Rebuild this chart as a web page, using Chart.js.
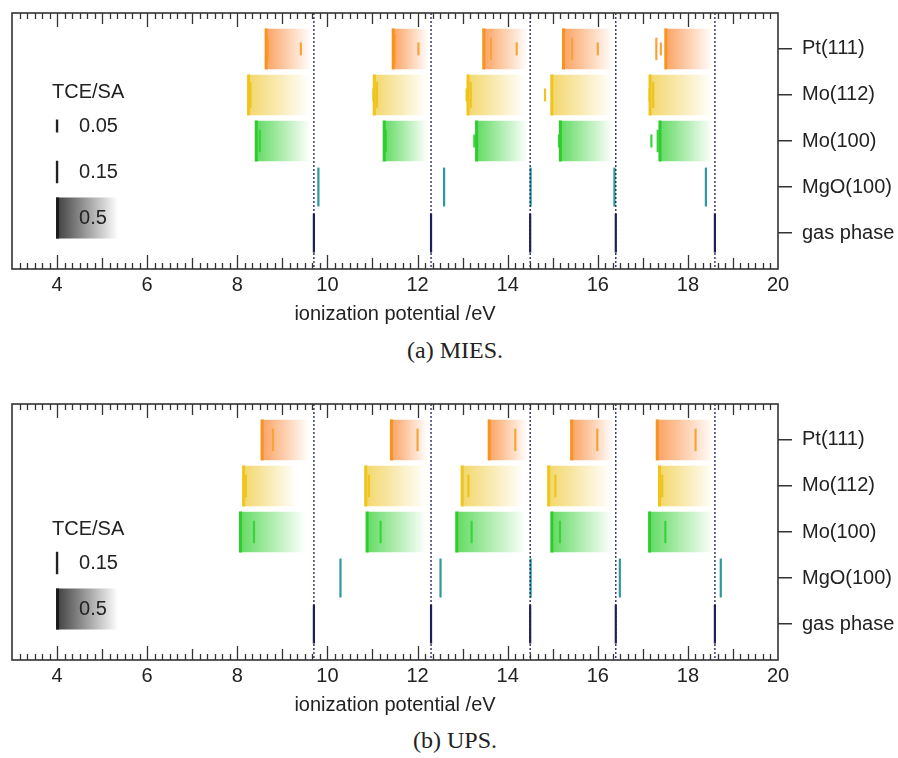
<!DOCTYPE html>
<html>
<head>
<meta charset="utf-8">
<script src="https://cdn.jsdelivr.net/npm/chart.js@4.4.0/dist/chart.umd.min.js"></script>
<style>
    body { margin: 0; background: #fff; width: 898px; height: 758px; position: relative; overflow: hidden; }
    .panel { position: absolute; left: 0; width: 898px; height: 330px; }
    .caption { position: absolute; left: 0; width: 910px; text-align: center; font-family: "Liberation Serif", serif; font-size: 24px; color: #222; }
</style>
</head>
<body>
<div class="panel" style="top:0"><canvas id="mies"></canvas></div>
<div class="caption" style="top:337px">(a) MIES.</div>
<div class="panel" style="top:391px"><canvas id="ups"></canvas></div>
<div class="caption" style="top:727px">(b) UPS.</div>
<script>
// rows top -> bottom
const rows = ['Pt(111)', 'Mo(112)', 'Mo(100)', 'MgO(100)', 'gas phase'];
const xTickValues = [4, 6, 8, 10, 12, 14, 16, 18, 20];
const gasPhase = [9.7, 12.3, 14.5, 16.4, 18.6];

// (a) MIES : band onsets / ends, extra peaks (position, TCE/SA weight)
const miesPtOnset = [8.64, 11.46, 13.47, 15.24, 17.51];
const miesPtEnd = [9.64, 12.24, 14.44, 16.35, 18.55];
const miesPtPeakX = [8.68, 9.41, 11.50, 12.02, 13.63, 14.20, 15.43, 16.00, 17.30, 17.40];
const miesPtPeakW = [0.15, 0.05, 0.25, 0.05, 0.15, 0.05, 0.15, 0.05, 0.15, 0.05];
const miesMo112Onset = [8.25, 11.04, 13.12, 14.98, 17.16];
const miesMo112End = [9.6, 12.2, 14.38, 16.32, 18.55];
const miesMo112PeakX = [8.29, 11.02, 11.10, 13.09, 13.18, 14.83, 17.15, 17.23];
const miesMo112PeakW = [0.2, 0.05, 0.2, 0.05, 0.2, 0.05, 0.05, 0.2];
const miesMo100Onset = [8.42, 11.26, 13.31, 15.17, 17.38];
const miesMo100End = [9.62, 12.22, 14.44, 16.34, 18.55];
const miesMo100PeakX = [8.50, 11.30, 13.26, 15.14, 17.33, 17.19];
const miesMo100PeakW = [0.15, 0.15, 0.05, 0.05, 0.15, 0.05];
const miesMgO = [9.80, 12.59, 14.51, 16.37, 18.40];
const miesKey = [0.05, 0.15, 0.5];

// (b) UPS
const upsPtOnset = [8.55, 11.42, 13.59, 15.42, 17.32];
const upsPtEnd = [9.6, 12.22, 14.44, 16.35, 18.58];
const upsPtPeakX = [8.79, 12.00, 14.17, 15.99, 18.17];
const upsPtPeakW = [0.15, 0.15, 0.15, 0.15, 0.15];
const upsMo112Onset = [8.14, 10.85, 12.99, 14.91, 17.37];
const upsMo112End = [9.32, 12.2, 14.36, 16.3, 18.58];
const upsMo112PeakX = [8.19, 10.92, 13.13, 15.06, 17.43];
const upsMo112PeakW = [0.15, 0.15, 0.15, 0.15, 0.15];
const upsMo100Onset = [8.07, 10.88, 12.87, 14.98, 17.15];
const upsMo100End = [9.52, 12.2, 14.41, 16.32, 18.58];
const upsMo100PeakX = [8.37, 11.18, 13.20, 15.16, 17.50];
const upsMo100PeakW = [0.15, 0.15, 0.15, 0.15, 0.15];
const upsMgO = [10.29, 12.51, 14.51, 16.49, 18.73];
const upsKey = [0.15, 0.5];

const FONT = '"Liberation Sans", Arial, sans-serif';
const INK = '#222';
const NAVY = '#1e1e5a';
const TEAL = '#2a9a9e';
const Y_MIN = -0.78, Y_MAX = 4.78;

const species = [
    { row: 0, edge: '#f7931e', fill: 'rgba(250,140,60,', mark: '#f9a23c' },
    { row: 1, edge: '#f0c419', fill: 'rgba(240,205,70,', mark: '#eec424' },
    { row: 2, edge: '#2ecc2e', fill: 'rgba(60,210,60,', mark: '#3ad43a' }
];

// line length grows with sqrt of TCE/SA, in row units
function halfLen(chart, w) {
    const ys = chart.scales.y;
    const unit = Math.abs(ys.getPixelForValue(1) - ys.getPixelForValue(0));
    return 0.63 * Math.sqrt(w) * unit;
}

function markDataset(points, color, width, order) {
    return {
        type: 'scatter',
        data: points,
        pointStyle: 'line',
        rotation: 90,
        radius: ctx => (ctx.raw && ctx.chart.scales.y) ? halfLen(ctx.chart, ctx.raw.w) : 0,
        hoverRadius: ctx => (ctx.raw && ctx.chart.scales.y) ? halfLen(ctx.chart, ctx.raw.w) : 0,
        borderColor: color,
        backgroundColor: color,
        borderWidth: ctx => (ctx.raw && ctx.raw.w >= 0.5) ? width : 2.2,
        showLine: false,
        order: order
    };
}

function buildDatasets(bands, mgo) {
    const datasets = [];
    // dotted gas-phase guides
    const guide = [];
    gasPhase.forEach(v => { guide.push({ x: v, y: Y_MIN }, { x: v, y: Y_MAX }, { x: v, y: null }); });
    datasets.push({
        type: 'line', data: guide, borderColor: NAVY, borderWidth: 1.3, borderDash: [2, 2],
        pointRadius: 0, spanGaps: false, order: 1
    });

    bands.forEach((b, i) => {
        const sp = species[i];
        // gradient bands
        datasets.push({
            type: 'bar',
            indexAxis: 'y',
            data: b.onset.map((s, k) => ({ x: [s, b.end[k]], y: sp.row })),
            backgroundColor: ctx => {
                const chart = ctx.chart;
                if (!chart.chartArea || !ctx.raw) return sp.fill + '0.4)';
                const xs = chart.scales.x;
                const x0 = xs.getPixelForValue(ctx.raw.x[0]);
                const x1 = xs.getPixelForValue(ctx.raw.x[1]);
                const g = chart.ctx.createLinearGradient(x0, 0, x1, 0);
                g.addColorStop(0, sp.fill + '0.8)');
                g.addColorStop(1, sp.fill + '0)');
                return g;
            },
            borderWidth: 0,
            grouped: false,
            categoryPercentage: 1,
            barPercentage: 0.88,
            order: 4
        });
        // onset edge (0.5) + extra peaks
        const pts = b.onset.map(s => ({ x: s, y: sp.row, w: 0.5 }));
        b.peakX.forEach((x, k) => pts.push({ x: x, y: sp.row, w: b.peakW[k] }));
        datasets.push(markDataset(pts.filter(p => p.w < 0.5), sp.mark, 2.2, 3));
        datasets.push(markDataset(pts.filter(p => p.w >= 0.5), sp.edge, 3, 2));
    });

    datasets.push(markDataset(mgo.map(x => ({ x: x, y: 3, w: 0.45 })), TEAL, 2.2, 2));
    datasets.push(markDataset(gasPhase.map(x => ({ x: x, y: 4, w: 0.45 })), NAVY, 2.6, 2));
    return datasets;
}

// frame with inward ticks, plus TCE/SA key
const framePlugin = {
    id: 'frame',
    afterDatasetsDraw(chart, args, opts) {
        const { ctx, chartArea: a } = chart;
        const xs = chart.scales.x;
        ctx.save();
        ctx.strokeStyle = '#333';
        ctx.lineWidth = 1.6;
        ctx.strokeRect(a.left, a.top, a.right - a.left, a.bottom - a.top);
        ctx.lineWidth = 1.3;
        for (let k = 3 * 6 + 1; k < 20 * 6; k++) {
            const v = k / 6;
            const px = Math.round(xs.getPixelForValue(v)) + 0.5;
            let len = 6;
            if (k % 6 === 0) len = (k / 6) % 2 === 0 ? 14 : 11;
            ctx.beginPath();
            ctx.moveTo(px, a.top); ctx.lineTo(px, a.top + len);
            ctx.moveTo(px, a.bottom); ctx.lineTo(px, a.bottom - len);
            ctx.stroke();
        }

        // key
        const keys = opts.keys || [];
        const markX = xs.getPixelForValue(4);
        const textX = markX + 22;
        const step = 46;
        const lastY = a.top + 205;
        ctx.font = '20px ' + FONT;
        ctx.textBaseline = 'middle';
        ctx.fillStyle = INK;
        const firstY = lastY - step * (keys.length - 1);
        ctx.fillText('TCE/SA', markX - 5, firstY - 34);
        keys.forEach((w, i) => {
            const y = firstY + step * i;
            const h = halfLen(chart, w);
            if (w >= 0.5) {
                const x0 = markX - 1, x1 = markX + 61;
                const g = ctx.createLinearGradient(x0, 0, x1, 0);
                g.addColorStop(0, 'rgba(40,40,40,0.9)');
                g.addColorStop(1, 'rgba(40,40,40,0)');
                ctx.fillStyle = g;
                ctx.fillRect(x0, y - h, x1 - x0, 2 * h);
                ctx.strokeStyle = '#1a1a1a';
                ctx.lineWidth = 3;
                ctx.beginPath(); ctx.moveTo(x0 + 1.5, y - h); ctx.lineTo(x0 + 1.5, y + h); ctx.stroke();
            } else {
                ctx.strokeStyle = INK;
                ctx.lineWidth = 2.4;
                ctx.beginPath(); ctx.moveTo(markX, y - h); ctx.lineTo(markX, y + h); ctx.stroke();
            }
            ctx.fillStyle = INK;
            ctx.fillText(String(w), textX, y);
        });
        ctx.restore();
    }
};

function makeChart(id, bands, mgo, keys) {
    new Chart(document.getElementById(id), {
        data: { datasets: buildDatasets(bands, mgo) },
        plugins: [framePlugin],
        options: {
            responsive: true,
            maintainAspectRatio: false,
            animation: false,
            events: [],
            layout: { autoPadding: false, padding: { left: 12, top: 13, right: 0, bottom: 4 } },
            plugins: {
                legend: { display: false },
                tooltip: { enabled: false },
                frame: { keys: keys }
            },
            scales: {
                x: {
                    type: 'linear',
                    position: 'bottom',
                    offset: false,
                    min: 3,
                    max: 20,
                    afterBuildTicks: s => { s.ticks = xTickValues.map(v => ({ value: v })); },
                    grid: { display: false, drawTicks: false, offset: false },
                    border: { display: false },
                    ticks: { font: { family: FONT, size: 20 }, color: INK, padding: 4, maxRotation: 0 },
                    title: {
                        display: true,
                        text: 'ionization potential /eV',
                        font: { family: FONT, size: 20 },
                        color: INK,
                        padding: { top: 1, bottom: 0 }
                    }
                },
                y: {
                    type: 'linear',
                    position: 'right',
                    reverse: true,
                    offset: false,
                    min: Y_MIN,
                    max: Y_MAX,
                    afterBuildTicks: s => { s.ticks = rows.map((r, i) => ({ value: i })); },
                    afterFit: s => { s.width = 120; s.paddingTop = 0; s.paddingBottom = 0; },
                    grid: { drawOnChartArea: false, drawTicks: true, tickLength: 14, color: '#333', lineWidth: 1.5, offset: false },
                    border: { display: false },
                    ticks: {
                        font: { family: FONT, size: 20 },
                        color: INK,
                        padding: 10,
                        callback: v => rows[v]
                    }
                }
            }
        }
    });
}

makeChart('mies', [
    { onset: miesPtOnset, end: miesPtEnd, peakX: miesPtPeakX, peakW: miesPtPeakW },
    { onset: miesMo112Onset, end: miesMo112End, peakX: miesMo112PeakX, peakW: miesMo112PeakW },
    { onset: miesMo100Onset, end: miesMo100End, peakX: miesMo100PeakX, peakW: miesMo100PeakW }
], miesMgO, miesKey);

makeChart('ups', [
    { onset: upsPtOnset, end: upsPtEnd, peakX: upsPtPeakX, peakW: upsPtPeakW },
    { onset: upsMo112Onset, end: upsMo112End, peakX: upsMo112PeakX, peakW: upsMo112PeakW },
    { onset: upsMo100Onset, end: upsMo100End, peakX: upsMo100PeakX, peakW: upsMo100PeakW }
], upsMgO, upsKey);
</script>
</body>
</html>
